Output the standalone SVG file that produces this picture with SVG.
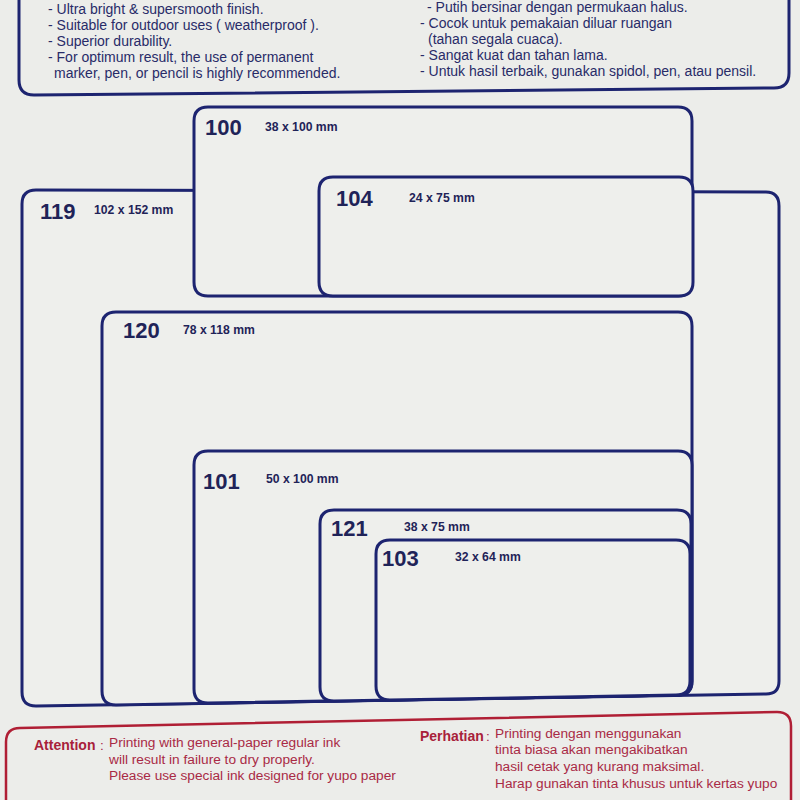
<svg xmlns="http://www.w3.org/2000/svg" width="800" height="800" viewBox="0 0 800 800">
<defs>
<style>
.bg{fill:#ecedea}
.box{fill:#eeefec;stroke:#1d2470;stroke-width:3;stroke-linejoin:round}
.frame{fill:none;stroke:#1d2470;stroke-width:3}
.red{fill:none;stroke:#b01f35;stroke-width:2.5}
.t{font-family:"Liberation Sans",Arial,sans-serif;font-size:14px;fill:#282b68}
.num{font-family:"Liberation Sans",Arial,sans-serif;font-size:22px;font-weight:bold;fill:#1f2358}
.dim{font-family:"Liberation Sans",Arial,sans-serif;font-size:12.2px;font-weight:bold;fill:#1f2358}
.r{font-family:"Liberation Sans",Arial,sans-serif;font-size:13.7px;fill:#a92a45}
.rb{font-family:"Liberation Sans",Arial,sans-serif;font-size:14px;font-weight:bold;fill:#a8213a}
</style>
</defs>
<rect class="bg" x="0" y="0" width="800" height="800"/>

<g id="info-box">
<path class="frame" d="M19,-5 L19,80 Q19,95 34,95 L774,88 Q789,88 789,73 L789,-5"/>
<text class="t" x="427" y="12">- Putih bersinar dengan permukaan halus.</text>
<text class="t" x="48" y="14">- Ultra bright &amp; supersmooth finish.</text>
<text class="t" x="48" y="30">- Suitable for outdoor uses ( weatherproof ).</text>
<text class="t" x="48" y="46">- Superior durability.</text>
<text class="t" x="48" y="62">- For optimum result, the use of permanent</text>
<text class="t" x="54" y="78">marker, pen, or pencil is highly recommended.</text>
<text class="t" x="420" y="28">- Cocok untuk pemakaian diluar ruangan</text>
<text class="t" x="428" y="44">(tahan segala cuaca).</text>
<text class="t" x="420" y="60">- Sangat kuat dan tahan lama.</text>
<text class="t" x="420" y="76">- Untuk hasil terbaik, gunakan spidol, pen, atau pensil.</text>
</g>

<g id="label-119">
<path class="box" d="M22,204 Q22,190 36,190 L766,192 Q779,192 779,206 L779,681 Q779,694 766,694 L36,706 Q22,706 22,692 Z"/>
<text class="num" x="40" y="219">119</text>
<text class="dim" x="94" y="214">102 x 152 mm</text>
</g>

<g id="label-100">
<path class="box" d="M194,121 Q194,107 208,107 L678,107 Q692,107 692,121 L692,282 Q692,296 678,296 L208,296 Q194,296 194,282 Z"/>
<text class="num" x="205" y="135">100</text>
<text class="dim" x="265" y="131">38 x 100 mm</text>
</g>

<g id="label-104">
<path class="box" d="M319,191 Q319,177 333,177 L679,177 Q693,177 693,191 L693,282 Q693,296 679,296 L333,296 Q319,296 319,282 Z"/>
<text class="num" x="336" y="206">104</text>
<text class="dim" x="409" y="202">24 x 75 mm</text>
</g>

<g id="label-120">
<path class="box" d="M102,326 Q102,312 116,312 L678,312 Q692,312 692,326 L692,681 Q692,695 678,695 L116,705 Q102,705 102,691 Z"/>
<text class="num" x="123" y="338">120</text>
<text class="dim" x="183" y="334">78 x 118 mm</text>
</g>

<g id="label-101">
<path class="box" d="M194,465 Q194,451 208,451 L678,451 Q692,451 692,465 L692,681 Q692,695 678,695 L208,703 Q194,703 194,689 Z"/>
<text class="num" x="203" y="489">101</text>
<text class="dim" x="266" y="483">50 x 100 mm</text>
</g>

<g id="label-121">
<path class="box" d="M320,524 Q320,510 334,510 L677,510 Q691,510 691,524 L691,681 Q691,695 677,695 L334,701 Q320,701 320,687 Z"/>
<text class="num" x="331" y="536">121</text>
<text class="dim" x="404" y="531">38 x 75 mm</text>
</g>

<g id="label-103">
<path class="box" d="M376,554 Q376,540 390,540 L676,540 Q690,540 690,554 L690,681 Q690,695 676,695 L390,700 Q376,700 376,686 Z"/>
<text class="num" x="382" y="566">103</text>
<text class="dim" x="455" y="561">32 x 64 mm</text>
</g>

<g id="attention-box">
<path class="red" d="M6,805 L6,742 Q6,728 20,728 L777,712 Q791,712 791,726 L791,805"/>
<text class="rb" x="34" y="750">Attention</text>
<text class="r" x="100" y="750">:</text>
<text class="r" x="109" y="747">Printing with general-paper regular ink</text>
<text class="r" x="109" y="764">will result in failure to dry properly.</text>
<text class="r" x="109" y="780">Please use special ink designed for yupo paper</text>
<text class="rb" x="420" y="741">Perhatian</text>
<text class="r" x="486" y="741">:</text>
<text class="r" x="495" y="738">Printing dengan menggunakan</text>
<text class="r" x="495" y="754">tinta biasa akan mengakibatkan</text>
<text class="r" x="495" y="771">hasil cetak yang kurang maksimal.</text>
<text class="r" x="495" y="788">Harap gunakan tinta khusus untuk kertas yupo</text>
</g>
</svg>
